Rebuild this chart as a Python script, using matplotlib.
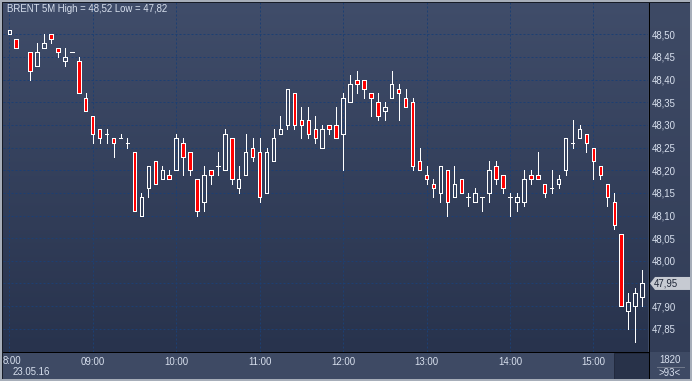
import numpy as np
import matplotlib.pyplot as plt
from matplotlib.patches import Rectangle, Polygon
from matplotlib.colors import LinearSegmentedColormap
import matplotlib.transforms as mtransforms

W, H = 692, 381

title = 'BRENT 5M High = 48,52 Low = 47,82'
date_label = '23.05.16'
hour_labels = ['8:00', '09:00', '10:00', '11:00', '12:00', '13:00', '14:00', '15:00']
price_ticks = [47.85, 47.90, 47.95, 48.00, 48.05, 48.10, 48.15, 48.20,
               48.25, 48.30, 48.35, 48.40, 48.45, 48.50]
bar_total = '1820'
bars_shown = '>93<'

nan = np.nan
opens = [48.50, 48.49, nan, 48.46, 48.43, 48.47, 48.50, 48.47, 48.44, 48.46,
         48.44, 48.36, 48.32, 48.29, 48.28, 48.27, 48.27, 48.26, 48.24, 48.10,
         48.16, 48.22, 48.18, 48.19, 48.20, 48.26, 48.24, 48.18, 48.13, 48.20,
         48.21, 48.20, 48.27, 48.16, 48.19, 48.25, 48.24, 48.15, 48.22, 48.28,
         48.30, 48.37, 48.31, 48.31, 48.29, 48.25, 48.30, 48.30, 48.28, 48.35,
         48.40, 48.40, 48.37, 48.35, 48.33, 48.36, 48.38, 48.36, 48.35, 48.22,
         48.19, 48.17, 48.15, 48.20, 48.14, 48.18, 48.14, 48.13, 48.14, 48.15,
         48.21, 48.19, 48.14, 48.13, 48.13, 48.19, 48.19, 48.17, 48.16, 48.17,
         48.20, 48.26, 48.27, 48.28, 48.25, 48.21, 48.17, 48.13, 48.06, 47.89,
         47.90, 47.92]
highs = [48.51, 48.49, nan, 48.46, 48.48, 48.50, 48.50, 48.47, 48.47, 48.46,
         48.45, 48.37, 48.32, 48.29, 48.29, 48.27, 48.28, 48.27, 48.24, 48.15,
         48.21, 48.22, 48.21, 48.20, 48.28, 48.27, 48.24, 48.18, 48.21, 48.20,
         48.24, 48.29, 48.27, 48.21, 48.28, 48.27, 48.27, 48.25, 48.29, 48.32,
         48.38, 48.37, 48.34, 48.34, 48.32, 48.30, 48.30, 48.34, 48.37, 48.41,
         48.42, 48.40, 48.37, 48.37, 48.35, 48.42, 48.39, 48.38, 48.36, 48.25,
         48.21, 48.18, 48.21, 48.20, 48.21, 48.18, 48.15, 48.16, 48.14, 48.22,
         48.22, 48.19, 48.15, 48.15, 48.20, 48.20, 48.24, 48.17, 48.20, 48.19,
         48.27, 48.31, 48.30, 48.28, 48.25, 48.21, 48.17, 48.15, 48.06, 47.93,
         47.94, 47.98]
lows = [48.50, 48.47, nan, 48.40, 48.43, 48.47, 48.48, 48.45, 48.43, 48.46,
        48.37, 48.33, 48.26, 48.26, 48.26, 48.23, 48.27, 48.25, 48.11, 48.10,
        48.14, 48.17, 48.18, 48.18, 48.20, 48.19, 48.19, 48.10, 48.11, 48.17,
        48.19, 48.20, 48.17, 48.15, 48.19, 48.22, 48.13, 48.15, 48.22, 48.28,
        48.29, 48.29, 48.27, 48.27, 48.26, 48.25, 48.28, 48.27, 48.20, 48.35,
        48.37, 48.36, 48.32, 48.31, 48.31, 48.36, 48.31, 48.34, 48.20, 48.20,
        48.17, 48.14, 48.13, 48.10, 48.14, 48.15, 48.12, 48.13, 48.11, 48.13,
        48.17, 48.15, 48.10, 48.11, 48.12, 48.17, 48.18, 48.14, 48.15, 48.16,
        48.19, 48.25, 48.27, 48.24, 48.18, 48.18, 48.12, 48.07, 47.90, 47.85,
        47.82, 47.90]
closes = [48.51, 48.47, nan, 48.42, 48.46, 48.48, 48.49, 48.46, 48.45, 48.46,
          48.37, 48.33, 48.28, 48.27, 48.28, 48.26, 48.27, 48.26, 48.11, 48.14,
          48.21, 48.17, 48.20, 48.18, 48.27, 48.23, 48.20, 48.11, 48.19, 48.19,
          48.21, 48.28, 48.18, 48.18, 48.24, 48.23, 48.14, 48.24, 48.27, 48.29,
          48.38, 48.30, 48.30, 48.28, 48.27, 48.29, 48.29, 48.27, 48.36, 48.39,
          48.39, 48.38, 48.36, 48.32, 48.34, 48.39, 48.37, 48.34, 48.21, 48.20,
          48.18, 48.16, 48.21, 48.13, 48.17, 48.15, 48.14, 48.15, 48.14, 48.20,
          48.18, 48.16, 48.14, 48.14, 48.18, 48.18, 48.18, 48.15, 48.16, 48.18,
          48.27, 48.26, 48.29, 48.26, 48.22, 48.19, 48.14, 48.08, 47.90, 47.91,
          47.93, 47.95]

o = np.array(opens)
h = np.array(highs)
l = np.array(lows)
c = np.array(closes)
x = np.arange(len(o))
top = np.maximum(o, c)
bot = np.minimum(o, c)
down = c < o

txt = '#d8e0ee'
fs = 6.9
px = 0.72  # one pixel in points
plt.rcParams['font.family'] = ['Liberation Sans', 'DejaVu Sans']
plt.rcParams['font.size'] = fs

fig = plt.figure(figsize=(W / 100, H / 100), dpi=100, facecolor='#3e4a64')

# right price strip with its own gradient
side = fig.add_axes([650 / W, 1 - 352 / H, 40 / W, 352 / H])
side.imshow(np.linspace(0, 1, 256).reshape(-1, 1), aspect='auto', extent=[0, 1, 0, 1],
            cmap=LinearSegmentedColormap.from_list('s', ['#3e4a65', '#323d57']))
side.set_axis_off()

ax = fig.add_axes([3 / W, 1 - 352 / H, 645 / W, 352 / H])
ax.imshow(np.linspace(0, 1, 256).reshape(-1, 1), aspect='auto', extent=[0, 1, 0, 1],
          transform=ax.transAxes, zorder=0,
          cmap=LinearSegmentedColormap.from_list('bg', ['#404d6a', '#28334d']))

# wicks above and below the body
ax.vlines(x, top, h, colors='white', lw=px, antialiased=False, zorder=3)
ax.vlines(x, l, bot, colors='white', lw=px, antialiased=False, zorder=3)
faces = ['#ff0000' if d else 'none' for d in down]
ax.bar(x, top - bot, bottom=bot, width=0.5, color=faces, edgecolor='white',
       linewidth=px, antialiased=False, zorder=4)

last = c[-1]
hour_pos = np.arange(len(hour_labels)) * 12
ax.set_xticks(hour_pos, [''] + hour_labels[1:])
ax.set_yticks(price_ticks, ['' if abs(v - last) < 1e-9 else f'{v:.2f}'.replace('.', ',')
                            for v in price_ticks])
ax.yaxis.tick_right()
ax.tick_params(length=0, colors=txt, labelsize=fs)
ax.tick_params(axis='y', pad=2.8)
ax.tick_params(axis='x', pad=3.5)
ax.grid(True, color='#1d3f72', lw=px, linestyle=(0, (2, 2)))
for s in ax.spines.values():
    s.set_visible(False)
ax.set_xlim(-0.9, 91.85)
ax.set_ylim(47.7987, 48.5757)

ax.text(4 / 645, 1 - 8.5 / 352, title, transform=ax.transAxes, color=txt,
        ha='left', va='center', fontsize=fs)

fig.text(3 / W, 1 - 361 / H, hour_labels[0], color=txt, ha='left', va='center', fontsize=fs)
fig.text(13 / W, 1 - 372 / H, date_label, color=txt, ha='left', va='center', fontsize=fs)

# last price tag on the right strip
bt = mtransforms.blended_transform_factory(fig.transFigure, ax.transData)
dy = 6.5 / 453
tag = Polygon([(650 / W, last), (655 / W, last + dy), (690 / W, last + dy),
               (690 / W, last - dy), (655 / W, last - dy)], closed=True,
              transform=bt, facecolor='#c6cad2', edgecolor='none', clip_on=False, zorder=5)
fig.add_artist(tag)
fig.text(654 / W, last, f'{last:.2f}'.replace('.', ','), transform=bt, color='#1c2436',
         ha='left', va='center', fontsize=fs, zorder=6)

# scroll box, counters and frame lines
fig.add_artist(Rectangle((614 / W, 2 / H), 35 / W, 26 / H, transform=fig.transFigure,
                         facecolor='#283249', edgecolor='#222a3e', lw=px))
fig.text(670 / W, 1 - 360 / H, bar_total, color=txt, ha='center', va='center', fontsize=fs)
fig.add_artist(plt.Line2D([657 / W, 684 / W], [1 - 366.5 / H] * 2, color='#6f788a', lw=px))
fig.text(670 / W, 1 - 373 / H, bars_shown, color=txt, ha='center', va='center', fontsize=fs)

fig.add_artist(Rectangle((3 / W, 1 - 353 / H), 646 / W, 1 / H, transform=fig.transFigure,
                         color='black', lw=0))
fig.add_artist(Rectangle((648.5 / W, 0), 1.2 / W, 1, transform=fig.transFigure,
                         color='black', lw=0))
fig.add_artist(Rectangle((0, 0), 2 / W, 1, transform=fig.transFigure, color='#a7aeb9', lw=0))
fig.add_artist(Rectangle((2 / W, 0), 1 / W, 1 - 2 / H, transform=fig.transFigure,
                         color='#161b26', lw=0))
fig.add_artist(Rectangle((2 / W, 1 - 3 / H), 688 / W, 1 / H, transform=fig.transFigure,
                         color='#161b26', lw=0))
fig.add_artist(Rectangle((0, 1 - 2 / H), 1, 2 / H, transform=fig.transFigure,
                         color='#a7aeb9', lw=0))
fig.add_artist(Rectangle((0, 0), 1, 2 / H, transform=fig.transFigure, color='#a7aeb9', lw=0))
fig.add_artist(Rectangle((690 / W, 0), 2 / W, 1, transform=fig.transFigure, color='#a7aeb9', lw=0))

fig.savefig('out.png', dpi=100, facecolor=fig.get_facecolor())
